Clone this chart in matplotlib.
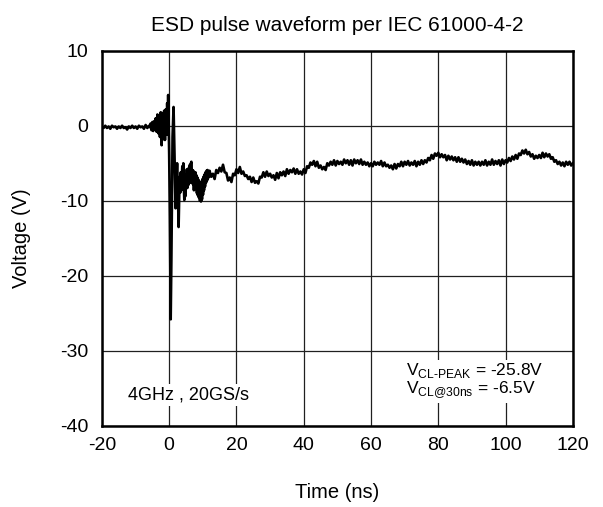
import matplotlib.pyplot as plt
import numpy as np

# ----------------------------------------------------------------
# ESD pulse waveform per IEC 61000-4-2 (values read off the scope shot)
# ----------------------------------------------------------------

title = "ESD pulse waveform per IEC 61000-4-2"
x_label = "Time (ns)"
y_label = "Voltage (V)"
x_ticks = [-20, 0, 20, 40, 60, 80, 100, 120]
y_ticks = [-40, -30, -20, -10, 0, 10]
note_scope = "4GHz , 20GS/s"
note_peak = "-25.8V"
note_30ns = "-6.5V"

# baseline before the pulse, -20 .. -6 ns, 0.5 ns steps
v_head = [-0.1, -0.3, 0.0, -0.3, -0.1, -0.4, 0.0, -0.2, -0.1, -0.4,
          -0.1, -0.3, 0.0, -0.3, -0.2, -0.5, -0.1, -0.3, 0.0, -0.3,
          -0.1, -0.4, 0.0, -0.2, -0.1, -0.4, 0.1, -0.3, 0.0]

# pre-pulse and discharge spike (-5.75 .. 2.8 ns)
t_pulse = [-5.75, -5.5, -5.25, -5.0, -4.75, -4.5, -4.25, -4.0, -3.75, -3.5,
           -3.25, -3.0, -2.75, -2.5, -2.25, -2.0, -1.75, -1.5, -1.25, -1.0,
           -0.75, -0.6, -0.45, -0.3, -0.15, 0.0, 0.2, 0.45, 0.65, 0.85,
           1.0, 1.3, 1.5, 1.7, 1.9, 2.1, 2.35, 2.6, 2.8]
v_pulse = [-0.2, 0.3, -0.6, 0.5, -0.7, 0.6, -0.5, 1.0, -0.8, 1.5,
           -1.0, 1.2, -1.5, 1.8, -2.6, 1.6, -1.8, 2.0, -1.9, 2.2,
           -1.2, 3.0, 1.0, 4.1, 0.5, -4.0, -12.0, -25.8, -18.0, -8.0,
           -1.5, 2.5, -2.0, -6.0, -11.0, -8.0, -5.0, -9.0, -13.5]

# ringing after the spike, 3.0 .. 11.85 ns, 0.15 ns steps
v_ring = [-9.0, -6.8, -8.9, -6.2, -8.6, -7.0, -5.4, -7.8, -5.0, -8.0,
          -9.9, -7.2, -9.4, -6.5, -8.0, -5.8, -8.3, -6.1, -7.9, -5.6,
          -7.4, -5.2, -7.6, -5.0, -4.8, -7.3, -5.9, -7.8, -6.0, -8.6,
          -6.4, -8.0, -6.2, -8.4, -6.6, -9.0, -6.9, -9.3, -7.2, -9.6,
          -7.4, -10.0, -7.8, -10.1, -7.5, -9.8, -7.1, -9.2, -6.8, -8.6,
          -6.5, -8.1, -6.2, -7.6, -6.0, -7.3, -5.9, -7.0, -6.1, -6.8]

# slow tail, 12 .. 120 ns, 0.5 ns steps (two rows = 10 ns)
v_tail = [-6.0, -6.8, -6.4, -7.1, -5.9, -6.3, -5.6, -6.1, -5.2, -6.2,
          -6.3, -7.3, -6.9, -7.5, -6.4, -6.6, -5.8, -6.3, -5.5, -6.4,
          -6.1, -6.7, -6.6, -7.1, -6.8, -7.5, -6.9, -7.6, -7.4, -7.7,
          -6.8, -6.9, -6.2, -6.8, -6.1, -6.7, -6.4, -6.9, -6.6, -7.2,
          -6.3, -7.0, -6.2, -6.6, -6.1, -6.7, -5.8, -6.4, -5.9, -6.2,
          -5.7, -6.4, -5.8, -6.4, -6.1, -6.5, -5.8, -6.3, -5.4, -5.6,
          -4.9, -5.2, -4.7, -5.4, -4.8, -5.6, -5.3, -5.8, -5.5, -5.9,
          -5.0, -5.3, -4.8, -5.2, -4.6, -5.3, -4.7, -5.1, -4.8, -5.2,
          -4.5, -5.0, -4.6, -5.2, -4.6, -5.3, -4.5, -5.0, -4.6, -5.1,
          -4.5, -5.2, -4.8, -5.2, -4.9, -5.4, -5.0, -5.4, -4.8, -5.2,
          -4.9, -5.2, -4.7, -5.4, -4.9, -5.4, -5.2, -5.6, -5.3, -5.8,
          -5.1, -5.7, -5.1, -5.4, -4.8, -5.4, -4.8, -5.2, -4.7, -5.3,
          -4.9, -5.2, -4.7, -5.4, -4.8, -5.2, -4.6, -5.1, -4.6, -4.9,
          -4.3, -4.6, -3.9, -4.4, -3.7, -4.0, -3.6, -4.2, -3.8, -4.2,
          -3.9, -4.6, -4.0, -4.5, -4.1, -4.6, -4.2, -4.8, -4.2, -4.8,
          -4.4, -4.9, -4.5, -5.1, -4.7, -5.2, -4.6, -5.3, -4.8, -5.2,
          -4.8, -5.3, -4.8, -5.2, -4.6, -5.3, -4.8, -5.2, -4.5, -5.2,
          -4.7, -5.1, -4.6, -5.3, -4.5, -5.1, -4.6, -4.9, -4.3, -4.7,
          -4.1, -4.5, -3.9, -4.4, -3.7, -3.9, -3.3, -3.7, -3.2, -3.8,
          -3.5, -4.1, -3.8, -4.4, -4.0, -4.3, -3.9, -4.3, -3.6, -4.2,
          -3.7, -4.1, -3.8, -4.4, -4.2, -4.8, -4.6, -5.1, -4.8, -5.3,
          -4.9, -5.4, -4.8, -5.2, -4.8, -5.3, -5.0]

t_head = np.linspace(-20, -6, len(v_head))
t_ring = np.linspace(3.0, 11.85, len(v_ring))
t_tail = np.linspace(12, 120, len(v_tail))

t = np.concatenate([t_head, t_pulse, t_ring, t_tail])
v = np.concatenate([v_head, v_pulse, v_ring, v_tail])

plt.rcParams['font.family'] = ['Liberation Sans', 'DejaVu Sans']
plt.rcParams['mathtext.fontset'] = 'custom'
plt.rcParams['mathtext.rm'] = 'Liberation Sans'
plt.rcParams['axes.unicode_minus'] = False

fig = plt.figure(figsize=(6.03, 5.07), dpi=100)
ax = fig.add_axes([0.169, 0.160, 0.781, 0.740])

ax.plot(t, v, '-', color='black', lw=1.9, zorder=3)

ax.set_xlim(-20, 120)
ax.set_ylim(-40, 10)
ax.set_xticks(x_ticks)
ax.set_yticks(y_ticks)
ax.tick_params(length=0, labelsize=14)
ax.tick_params(axis='x', pad=8)
ax.tick_params(axis='y', pad=10)
ax.grid(True, color='#202020', lw=0.9, zorder=1)
ax.set_axisbelow(True)
for s in ax.spines.values():
    s.set_linewidth(1.8)

ax.set_title(title, fontsize=15, pad=14)
ax.set_xlabel(x_label, fontsize=14.5)
ax.set_ylabel(y_label, fontsize=14.5)
ax.xaxis.set_label_coords(0.5, -0.152)
ax.yaxis.set_label_coords(-0.150, 0.5)

box = dict(facecolor='white', edgecolor='none', pad=2)
ax.text(-12.3, -35.9, note_scope, fontsize=13, va='center', ha='left',
        bbox=box, zorder=4)
ax.text(70.4, -34.0,
        'V$_{\\mathrm{CL\u2010PEAK}}$ = ' + note_peak + '\n' +
        'V$_{\\mathrm{CL@30ns}}$ = ' + note_30ns,
        fontsize=12.5, va='center', ha='left', linespacing=0.95,
        bbox=box, zorder=4)

plt.savefig('out.png', dpi=100)
